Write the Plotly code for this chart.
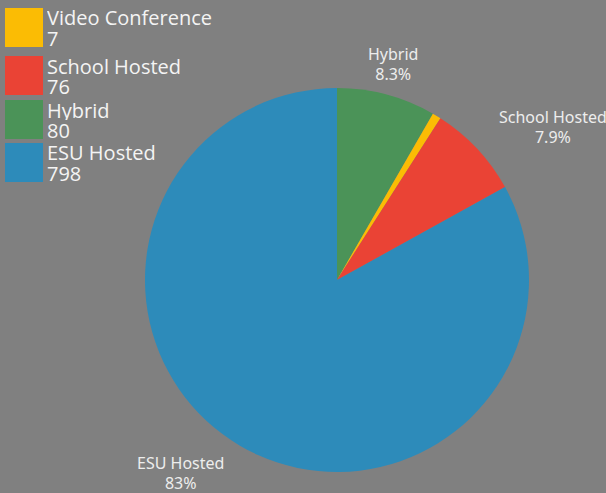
import plotly.graph_objects as go

# Delivery mode counts (slice order runs clockwise from 12 o'clock)
labels = ["Hybrid", "Video Conference", "School Hosted", "ESU Hosted"]
values = [80, 7, 76, 798]
colors = ["#4B9358", "#FBBC04", "#EA4335", "#2D8BBA"]

# Legend order
legend_labels = ["Video Conference", "School Hosted", "Hybrid", "ESU Hosted"]

# Where each slice's outside label sits (pixel centres); tiny slices are unlabelled
label_pos = {"Hybrid": (393, 64), "School Hosted": (553, 127), "ESU Hosted": (180, 473)}

W, H = 606, 493
total = sum(values)

fig = go.Figure(go.Pie(
    labels=labels,
    values=values,
    marker=dict(colors=colors, line=dict(width=0)),
    sort=False,
    direction="clockwise",
    rotation=0,
    textinfo="none",
    hoverinfo="label+value+percent",
    showlegend=False,
    domain=dict(x=[(337 - 192) / W, (337 + 192) / W],
                y=[(H - 280 - 192) / H, (H - 280 + 192) / H]),
))


def pct(v):
    s = f"{100 * v / total:.1f}"
    return (s[:-2] if s.endswith(".0") else s) + "%"


annotations, shapes = [], []
for name, val in zip(labels, values):
    if name not in label_pos:
        continue
    px, py = label_pos[name]
    annotations.append(dict(xref="paper", yref="paper", x=px / W, y=1 - py / H,
                            xanchor="center", yanchor="middle", align="center",
                            height=38, valign="middle",
                            text=f"{name}<br>{pct(val)}", showarrow=False,
                            font=dict(family="Noto Sans", size=16, color="#EDEDED")))

# Custom legend: big colour squares with label and count
lookup = dict(zip(labels, zip(values, colors)))
tops = [8, 56, 100, 143]
lfont = dict(family="Open Sans", size=20, color="#F4F4F4", weight=500)
for name, top in zip(legend_labels, tops):
    val, col = lookup[name]
    shapes.append(dict(type="rect", xref="paper", yref="paper",
                       x0=5 / W, x1=43 / W, y0=1 - top / H, y1=1 - (top + 39) / H,
                       fillcolor=col, line=dict(width=0)))
    annotations.append(dict(xref="paper", yref="paper", x=45 / W, y=1 - (top + 9.5) / H,
                            xanchor="left", yanchor="middle", text=name, height=20,
                            showarrow=False, font=lfont))
    annotations.append(dict(xref="paper", yref="paper", x=45 / W, y=1 - (top + 30) / H,
                            xanchor="left", yanchor="middle", text=str(val), height=20,
                            showarrow=False, font=lfont))

fig.update_layout(
    width=W, height=H,
    margin=dict(l=0, r=0, t=0, b=0),
    paper_bgcolor="#808080",
    plot_bgcolor="#808080",
    shapes=shapes,
    annotations=annotations,
)

fig.write_html("out.html")
